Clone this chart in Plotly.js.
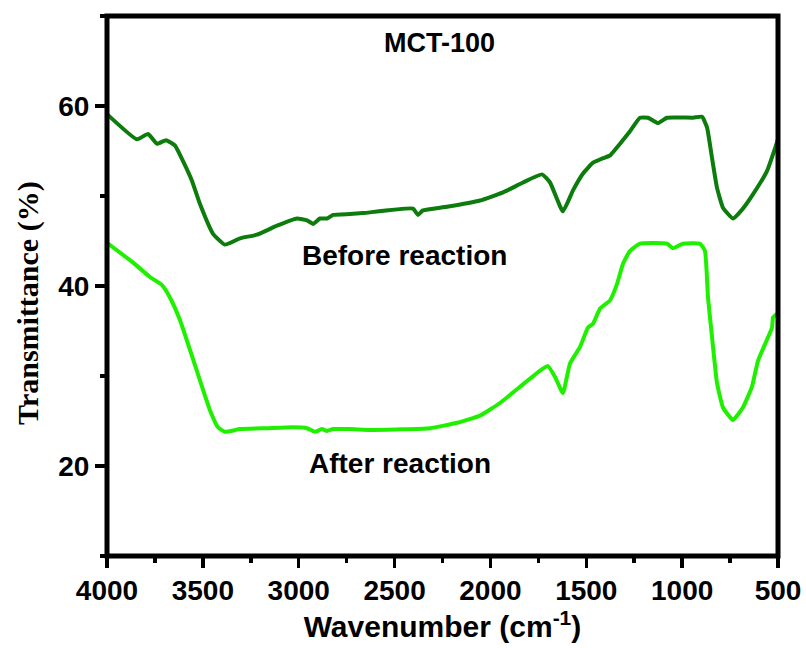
<!DOCTYPE html>
<html>
<head>
<meta charset="utf-8">
<script src="https://cdn.plot.ly/plotly-3.0.1.min.js"></script>
<style>html,body{margin:0;padding:0;background:#fff;}#chart{width:806px;height:648px;}</style>
</head>
<body>
<div id="chart"></div>
<script>
// Before reaction (dark green)
const beforeWavenumber = [4000, 3844, 3786, 3739, 3692, 3645, 3604, 3557, 3515, 3447, 3385, 3306, 3218, 3113, 3009, 2957, 2925, 2889, 2852, 2821, 2733, 2665, 2404, 2378, 2352, 2227, 2054, 1934, 1830, 1731, 1689, 1622, 1570, 1517, 1465, 1413, 1376, 1324, 1272, 1220, 1178, 1126, 1079, 943, 896, 870, 844, 818, 787, 735, 683, 630, 557, 500];
const beforeTransmittance = [59.1, 56.3, 56.9, 55.8, 56.2, 55.6, 53.9, 51.7, 49.1, 45.8, 44.6, 45.3, 45.7, 46.7, 47.5, 47.3, 46.9, 47.5, 47.5, 47.9, 48.0, 48.1, 48.6, 47.9, 48.4, 48.8, 49.5, 50.4, 51.5, 52.4, 51.5, 48.3, 50.6, 52.5, 53.7, 54.2, 54.5, 55.8, 57.2, 58.7, 58.7, 58.1, 58.7, 58.7, 58.8, 57.6, 54.2, 50.9, 48.7, 47.5, 48.6, 50.2, 52.8, 56.3];

// After reaction (bright green)
const afterWavenumber = [4000, 3864, 3776, 3713, 3671, 3619, 3567, 3515, 3463, 3421, 3385, 3306, 3165, 3030, 2957, 2915, 2878, 2852, 2821, 2733, 2612, 2315, 2174, 2054, 1950, 1846, 1741, 1700, 1663, 1622, 1585, 1533, 1491, 1465, 1428, 1376, 1340, 1308, 1272, 1220, 1079, 1048, 996, 907, 881, 865, 844, 818, 787, 735, 683, 636, 604, 552, 531, 526, 500];
const afterTransmittance = [44.8, 42.6, 41.0, 40.1, 38.7, 36.2, 32.9, 29.5, 26.2, 24.3, 23.8, 24.1, 24.2, 24.3, 24.2, 23.8, 24.1, 23.9, 24.1, 24.1, 24.0, 24.2, 24.8, 25.6, 27.0, 28.8, 30.6, 31.1, 29.9, 28.1, 31.4, 33.2, 35.4, 35.8, 37.5, 38.4, 40.2, 42.5, 43.9, 44.7, 44.7, 44.2, 44.7, 44.7, 43.9, 38.7, 34.3, 29.2, 26.5, 25.1, 26.5, 28.8, 31.7, 34.3, 35.4, 36.5, 37.0];

const xTickVals = [4000, 3500, 3000, 2500, 2000, 1500, 1000, 500];
const yTickVals = [20, 40, 60];
const labels = {sample: "MCT-100", before: "Before reaction", after: "After reaction", yTitle: "Transmittance (%)"};

const traces = [
  {x: beforeWavenumber, y: beforeTransmittance, mode: 'lines', line: {color: '#0c7c0c', width: 4, shape: 'spline', smoothing: 0.4}, showlegend: false},
  {x: afterWavenumber, y: afterTransmittance, mode: 'lines', line: {color: '#1ef000', width: 4, shape: 'spline', smoothing: 0.4}, showlegend: false}
];

const sans = 'Liberation Sans, Arial, sans-serif';
const tickFont = {family: sans, size: 28, color: '#000', weight: 'bold'};

const layout = {
  width: 806, height: 648,
  margin: {l: 107, r: 28, t: 16, b: 92},
  paper_bgcolor: '#fff', plot_bgcolor: '#fff',
  xaxis: {
    range: [4000, 500],
    tickvals: xTickVals,
    ticks: 'outside', ticklen: 11, tickwidth: 3.5, tickcolor: '#000',
    minor: {dtick: 250, ticks: 'outside', ticklen: 6, tickwidth: 3.5, tickcolor: '#000'},
    showline: false,
    showgrid: false, zeroline: false,
    tickfont: tickFont,
    ticklabelstandoff: -2,
    title: {text: 'Wavenumber (cm<sup>-1</sup>)', font: {family: sans, size: 30, color: '#000', weight: 'bold'}, standoff: 10}
  },
  yaxis: {
    range: [10, 70],
    tickvals: yTickVals,
    ticks: 'outside', ticklen: 11, tickwidth: 3.5, tickcolor: '#000',
    minor: {dtick: 10, tick0: 10, ticks: 'outside', ticklen: 6, tickwidth: 3.5, tickcolor: '#000'},
    showline: false,
    showgrid: false, zeroline: false,
    tickfont: tickFont
  },
  shapes: [
    {type: 'rect', xref: 'paper', yref: 'paper', x0: 0, x1: 1, y0: 0, y1: 1, line: {color: '#000', width: 5}, fillcolor: 'rgba(0,0,0,0)', layer: 'above'}
  ],
  annotations: [
    {text: labels.yTitle, xref: 'paper', yref: 'paper', x: -0.118, y: 0.498, yshift: -16, textangle: -90, xanchor: 'center', yanchor: 'middle', showarrow: false, font: {family: 'Liberation Serif, Times New Roman, serif', size: 30, color: '#000', weight: 'bold'}},
    {text: labels.sample, xref: 'paper', yref: 'paper', x: 0.496, y: 0.95, xanchor: 'center', yanchor: 'middle', showarrow: false, font: {family: sans, size: 27, color: '#000', weight: 'bold'}},
    {text: labels.before, xref: 'paper', yref: 'paper', x: 0.443, y: 0.557, xanchor: 'center', yanchor: 'middle', showarrow: false, font: {family: sans, size: 28, color: '#000', weight: 'bold'}},
    {text: labels.after, xref: 'paper', yref: 'paper', x: 0.437, y: 0.172, xanchor: 'center', yanchor: 'middle', showarrow: false, font: {family: sans, size: 28, color: '#000', weight: 'bold'}}
  ]
};

Plotly.newPlot('chart', traces, layout, {displayModeBar: false, staticPlot: true});
</script>
</body>
</html>
